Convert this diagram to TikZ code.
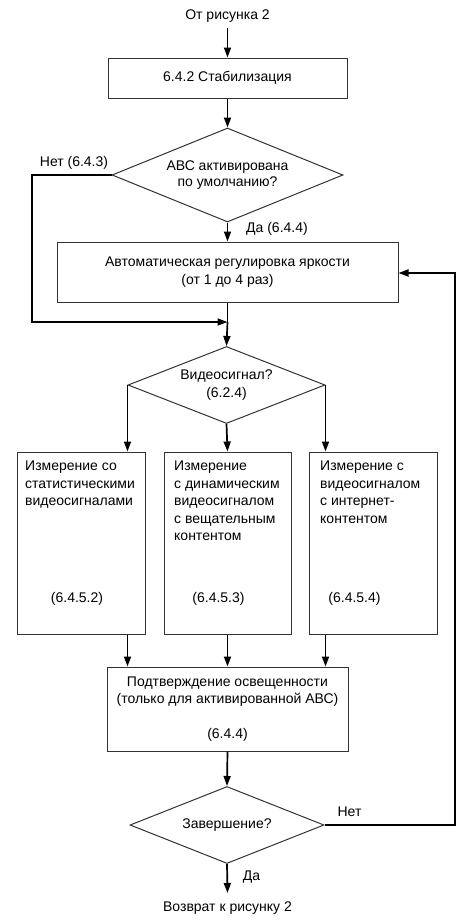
\documentclass[tikz,border=0pt]{standalone}
\usepackage{fontspec}
\setmainfont{Liberation Sans}
\usetikzlibrary{arrows.meta,shapes.geometric,calc}
\begin{document}
\begin{tikzpicture}[x=1pt,y=-1pt,
  every node/.style={font=\fontsize{14}{17.5}\selectfont},
  box/.style={draw=black!80, line width=1pt, inner sep=0pt, align=center},
  dia/.style={draw=black!80, line width=1pt, diamond, inner sep=0pt, align=center, shape aspect=2.5},
  arr/.style={line width=1.7pt, -{Triangle[length=10pt,width=7pt]}},
  ln/.style={line width=1.7pt},
  txt/.style={inner sep=0pt, align=center},
  ltxt/.style={inner sep=0pt, align=left, anchor=north west}
]
\useasboundingbox (0,0) rectangle (464,921);
\fill[white] (0,0) rectangle (464,921);

% texts start / end
\node[txt] (start) at (227.5,16) {От рисунка 2};
\node[txt] (ret) at (227.5,908) {Возврат к рисунку 2};

% boxes
\node[box, minimum width=239pt, minimum height=40pt] (stab) at (227.5,78) {6.4.2 Стабилизация};
\node[dia, minimum width=231pt, minimum height=94pt] (abc) at (227.5,175) {\raisebox{-1.5pt}{\shortstack{АВС активирована\\по умолчанию?}}};
\node[box, minimum width=341pt, minimum height=60pt] (auto) at (227.5,272) {Автоматическая регулировка яркости\\(от 1 до 4 раз)};
\node[dia, minimum width=197pt, minimum height=77pt] (vid) at (226.5,385) {Видеосигнал?\\(6.2.4)};

\node[box, minimum width=128pt, minimum height=182pt] (m1) at (81,543) {};
\node[box, minimum width=127pt, minimum height=182pt] (m2) at (227.5,543) {};
\node[box, minimum width=128pt, minimum height=182pt] (m3) at (373,543) {};

\node[ltxt] (m1t) at (25,461) {Измерение со\\статистическими\\видеосигналами};
\node[ltxt] (m2t) at (174,461) {Измерение\\с динамическим\\видеосигналом\\с вещательным\\контентом};
\node[ltxt] (m3t) at (320,461) {Измерение с\\видеосигналом\\с интернет-\\контентом};
\node[txt] (m1n) at (77,599) {(6.4.5.2)};
\node[txt] (m2n) at (218.5,599) {(6.4.5.3)};
\node[txt] (m3n) at (354.5,599) {(6.4.5.4)};

\node[box, minimum width=241pt, minimum height=84pt] (conf) at (227.5,709) {Подтверждение освещенности\\(только для активированной АВС)\\[17pt](6.4.4)};
\node[dia, minimum width=194pt, minimum height=77pt] (fin) at (227,825) {Завершение?};

% labels
\node[txt] (lno1) at (74,163) {Нет (6.4.3)};
\node[txt] (lyes1) at (277,229) {Да (6.4.4)};
\node[txt] (lno2) at (349.5,812) {Нет};
\node[txt] (lyes2) at (251.5,877) {Да};

% coordinates
\coordinate (startb) at (227.5,28);
\coordinate (join) at (227.5,322);
\coordinate (lc) at (32,175);
\coordinate (lcb) at (32,322);
\coordinate (rc) at (455,825);
\coordinate (rct) at (455,273);
\coordinate (retb) at (227.5,893);

% connectors
\draw[arr] (startb) -- (stab.north);
\draw[arr] (stab.south) -- (abc.north);
\draw[arr] (abc.south) -- (auto.north);
\draw[ln] (auto.south) -- (join);
\draw[arr] (join) -- (vid.north);
\draw[arr] (abc.west) -- (lc) -- (lcb) -- (join);
\draw[arr] (vid.west) -- (vid.west |- m1.north);
\draw[arr] (vid.south) -- (m2.north);
\draw[arr] (vid.east) -- (vid.east |- m3.north);
\draw[arr] (vid.west |- m1.south) -- (vid.west |- conf.north);
\draw[arr] (m2.south) -- (conf.north);
\draw[arr] (vid.east |- m3.south) -- (vid.east |- conf.north);
\draw[arr] (conf.south) -- (fin.north);
\draw[arr] (fin.south) -- (retb);
\draw[arr] (fin.east) -- (rc) -- (rct) -- (rct -| auto.east);
\end{tikzpicture}
\end{document}
